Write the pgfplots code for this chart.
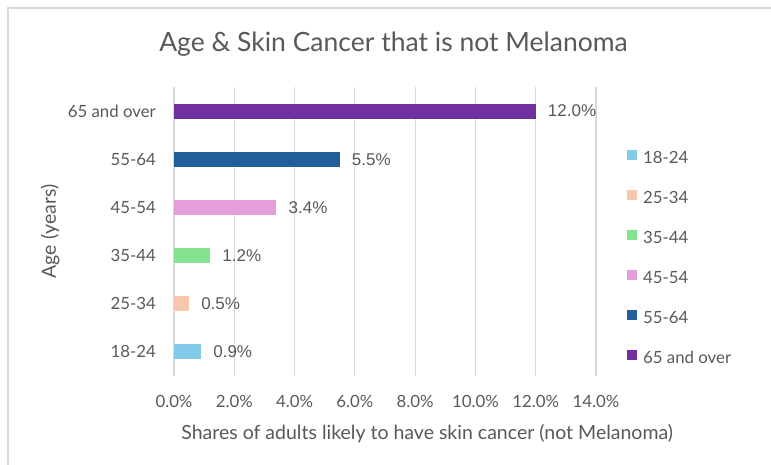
\documentclass[border=0pt]{standalone}
\usepackage{pgfplots}
\pgfplotsset{compat=1.18}
\usepackage{fontspec}
\setmainfont{Lato}
\newfontfamily\arialfont{Liberation Sans}
\definecolor{txt}{HTML}{595959}
\definecolor{gridc}{HTML}{D9D9D9}
\definecolor{cA}{HTML}{83CBEB}
\definecolor{cB}{HTML}{F6C6AD}
\definecolor{cC}{HTML}{84E291}
\definecolor{cD}{HTML}{E49EDD}
\definecolor{cE}{HTML}{215F9A}
\definecolor{cF}{HTML}{7030A0}
\begin{document}
\begin{tikzpicture}
\useasboundingbox (0pt,0pt) rectangle (771pt,465pt);
\fill[white] (0pt,0pt) rectangle (771pt,465pt);
\draw[gridc, line width=1.5pt] (8pt,0pt) -- (8pt,457pt) -- (771pt,457pt);
\node[txt, font=\fontsize{26.5}{30}\selectfont] at (393.5pt,421pt) {Age \& Skin Cancer that is not Melanoma};
\begin{axis}[
  at={(174pt,89pt)}, anchor=south west,
  scale only axis, width=422pt, height=289pt,
  xmin=0, xmax=14, ymin=-0.5, ymax=5.5,
  xtick={0,2,...,14}, ytick={0,...,5},
  yticklabels={18-24,25-34,35-44,45-54,55-64,65 and over},
  xmajorgrids, grid style={gridc, line width=1.2pt},
  axis line style={draw=none}, major tick length=0pt,
  /pgf/number format/assume math mode=true,
  xbar, bar width=15pt, bar shift=0pt,
  ticklabel style={font=\fontsize{16.8}{19}\selectfont, color=txt, inner sep=0pt},
  xticklabel={\pgfmathprintnumber[fixed,fixed zerofill,precision=1]{\tick}\%},
  xticklabel style={anchor=center, yshift=-25pt},
  yticklabel style={anchor=east, xshift=-18pt},
  xlabel={Shares of adults likely to have skin cancer (not Melanoma)},
  ylabel={Age (years)},
  every axis x label/.style={at={(rel axis cs:0.6,0)}, anchor=center, yshift=-58pt, font=\fontsize{19.5}{22}\selectfont, color=txt},
  every axis y label/.style={at={(rel axis cs:0,0.5)}, anchor=center, xshift=-124pt, rotate=90, font=\fontsize{19.5}{22}\selectfont, color=txt},
  nodes near coords={\pgfmathprintnumber[fixed,fixed zerofill,precision=1]{\pgfplotspointmeta}\%},
  nodes near coords style={font=\arialfont\fontsize{17}{19}\selectfont, color=txt, anchor=west, inner sep=0pt, xshift=12pt},
  legend cell align=left,
  legend style={at={(rel axis cs:1.0735,0.782)}, anchor=north west, draw=none, fill=none, inner sep=0pt,
    row sep=23.0pt, column sep=6pt,
    nodes={text height=12pt, text depth=4pt, inner sep=0pt, font=\fontsize{16.8}{19}\selectfont, text=txt}},
  legend image code/.code={\fill[#1] (0pt,-1pt) rectangle (10pt,9pt);},
]
\addplot[fill=cA, draw=none] coordinates {(0.9,0)};
\addlegendentry{18-24}
\addplot[fill=cB, draw=none] coordinates {(0.5,1)};
\addlegendentry{25-34}
\addplot[fill=cC, draw=none] coordinates {(1.2,2)};
\addlegendentry{35-44}
\addplot[fill=cD, draw=none] coordinates {(3.4,3)};
\addlegendentry{45-54}
\addplot[fill=cE, draw=none] coordinates {(5.5,4)};
\addlegendentry{55-64}
\addplot[fill=cF, draw=none] coordinates {(12.0,5)};
\addlegendentry{65 and over}
\end{axis}
\end{tikzpicture}
\end{document}
